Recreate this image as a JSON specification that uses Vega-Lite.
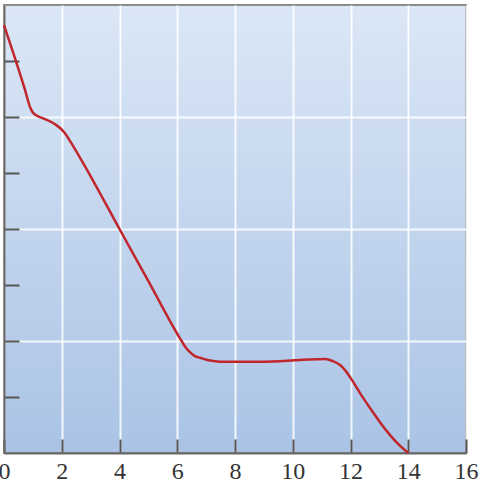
{
  "$schema": "https://vega.github.io/schema/vega-lite/v6.json",
  "width": 462,
  "height": 448,
  "autosize": {"type": "none"},
  "padding": {"left": 4, "top": 5, "right": 21, "bottom": 37},
  "background": "white",
  "config": {
    "view": {
      "fill": {"gradient": "linear", "x1": 0, "y1": 0, "x2": 0, "y2": 1,
        "stops": [{"offset": 0, "color": "#dbe7f6"}, {"offset": 1, "color": "#aac3e5"}]},
      "stroke": "#8c8c8c",
      "strokeWidth": 2
    }
  },
  "data": {
    "values": [
      {"t": 0, "v": 7.64}, {"t": 0.38, "v": 7.05}, {"t": 0.73, "v": 6.48}, {"t": 0.9, "v": 6.18},
      {"t": 1.0, "v": 6.08}, {"t": 1.11, "v": 6.03}, {"t": 1.38, "v": 5.97}, {"t": 1.77, "v": 5.87},
      {"t": 2.1, "v": 5.72}, {"t": 2.3, "v": 5.56}, {"t": 3.0, "v": 4.94}, {"t": 4.0, "v": 4.0},
      {"t": 5.0, "v": 3.07}, {"t": 6.15, "v": 2.0}, {"t": 6.3, "v": 1.88}, {"t": 6.44, "v": 1.8},
      {"t": 6.61, "v": 1.73}, {"t": 6.79, "v": 1.7}, {"t": 7.13, "v": 1.65}, {"t": 7.48, "v": 1.63},
      {"t": 8.9, "v": 1.63}, {"t": 10.25, "v": 1.66}, {"t": 11.12, "v": 1.68}, {"t": 11.39, "v": 1.64},
      {"t": 11.64, "v": 1.57}, {"t": 11.81, "v": 1.48}, {"t": 11.98, "v": 1.36}, {"t": 12.33, "v": 1.07},
      {"t": 12.68, "v": 0.8}, {"t": 13.02, "v": 0.55}, {"t": 13.37, "v": 0.32}, {"t": 13.71, "v": 0.13},
      {"t": 14.0, "v": 0}
    ]
  },
  "mark": {"type": "line", "color": "#c0272d", "strokeWidth": 2.5, "interpolate": "monotone"},
  "encoding": {
    "x": {
      "field": "t", "type": "quantitative",
      "scale": {"domain": [0, 16], "nice": false},
      "axis": {
        "title": null, "values": [0, 2, 4, 6, 8, 10, 12, 14, 16],
        "domainColor": "#666666", "domainWidth": 2,
        "tickSize": -14, "tickColor": "#555555", "tickWidth": 2,
        "grid": true, "gridColor": "white", "gridWidth": 2, "gridOpacity": 0.85,
        "labelFont": "Liberation Serif", "labelFontSize": 24, "labelColor": "#333333",
        "labelPadding": 20, "labelFlush": false
      }
    },
    "y": {
      "field": "v", "type": "quantitative",
      "scale": {"domain": [0, 8], "nice": false},
      "axis": {
        "title": null, "values": [1, 2, 3, 4, 5, 6, 7],
        "labels": false,
        "domainColor": "#666666", "domainWidth": 2,
        "tickSize": -15, "tickColor": "#555555", "tickWidth": 2,
        "grid": true, "gridColor": "white", "gridWidth": 2,
        "gridOpacity": {"condition": {"test": "datum.value % 2 === 0", "value": 0.85}, "value": 0}
      }
    }
  }
}
